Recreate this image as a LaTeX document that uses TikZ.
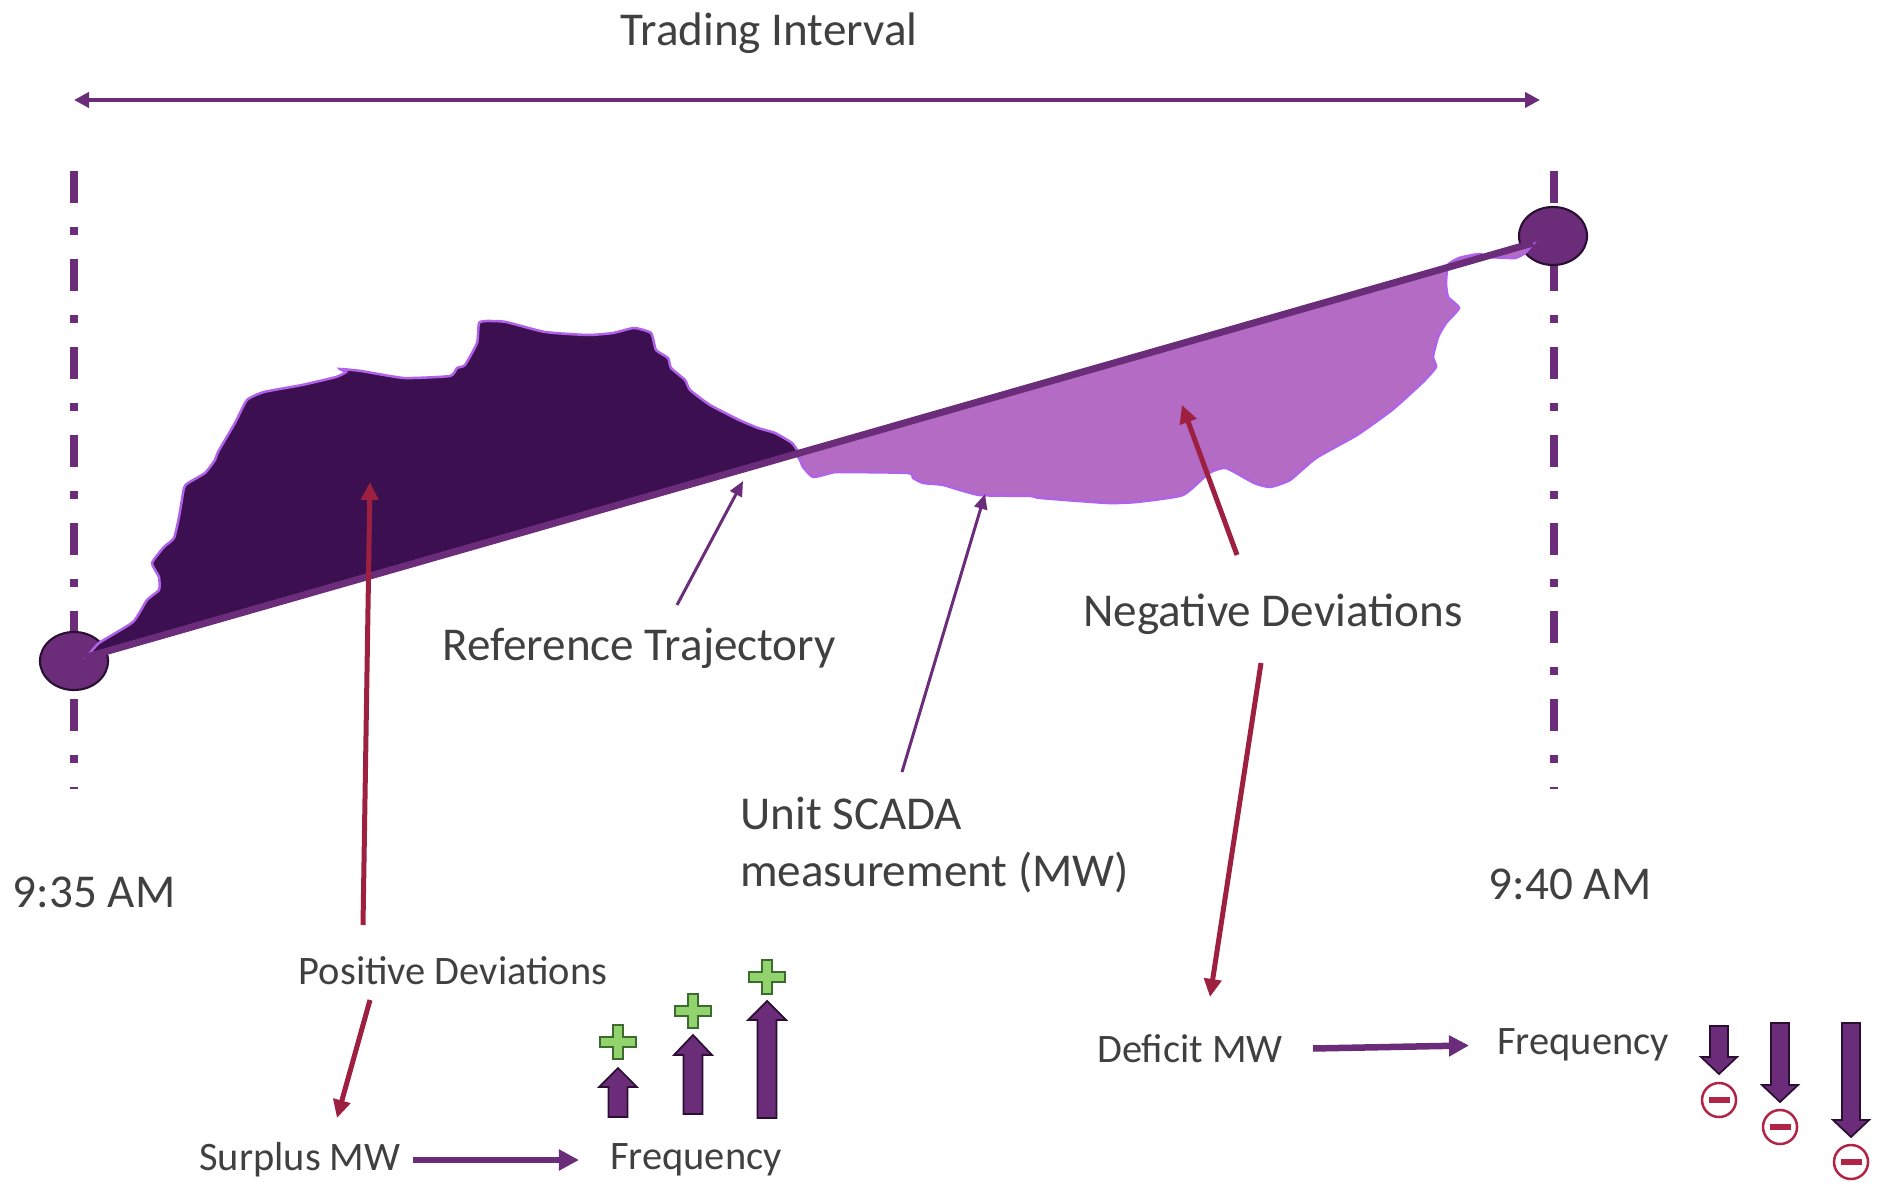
\documentclass[tikz,border=0pt]{standalone}
\usepackage{fontspec}
\setmainfont{Carlito}
\usepackage{tikz}
\usetikzlibrary{arrows.meta,positioning,calc,shapes.geometric}

\definecolor{plum}{HTML}{6B2D7A}
\definecolor{plumdark}{HTML}{2B0F33}
\definecolor{surplusfill}{HTML}{3C1050}
\definecolor{deficitfill}{HTML}{B36BC3}
\definecolor{blobedge}{HTML}{B062E8}
\definecolor{devred}{HTML}{9E2040}
\definecolor{minusred}{HTML}{B22445}
\definecolor{plusgreen}{HTML}{92D36E}
\definecolor{plusedge}{HTML}{3C6B2E}
\definecolor{txtgray}{HTML}{404040}

\tikzset{
  lbl/.style={text=txtgray, font=\fontsize{13.4}{16}\selectfont, inner sep=1pt},
  smalllbl/.style={text=txtgray, font=\fontsize{11.5}{14}\selectfont, inner sep=1pt},
  endpt/.style={ellipse, draw=plumdark, line width=0.6pt, fill=plum,
    minimum width=0.68cm, minimum height=0.58cm, inner sep=0pt},
  tickline/.style={plum, line width=0.08cm,
    dash pattern=on 0.32cm off 0.24cm on 0.08cm off 0.24cm},
  spanarrow/.style={draw=plum, line width=0.04cm,
    {Triangle[length=0.15cm,width=0.15cm]}-{Triangle[length=0.15cm,width=0.15cm]}},
  redarrow/.style={draw=devred, line width=0.05cm, -{Triangle[length=0.18cm,width=0.17cm]}},
  thinarrow/.style={draw=plum, line width=0.03cm, -{Triangle[length=0.15cm,width=0.13cm]}},
  flowarrow/.style={draw=plum, line width=0.065cm, -{Triangle[length=0.2cm,width=0.2cm]}},
  blockarrow/.style={fill=plum, draw=plumdark, line width=0.5pt},
  plusmark/.style={fill=plusgreen, draw=plusedge, line width=0.6pt},
  minusmark/.style={draw=minusred, line width=0.025cm},
  surplusblob/.style={fill=surplusfill, draw=blobedge, line width=0.025cm},
  deficitblob/.style={fill=deficitfill, draw=blobedge, line width=0.025cm},
}

\begin{document}
\begin{tikzpicture}[x=0.01cm, y=-0.01cm]
  \useasboundingbox (0,0) rectangle (1883,1189);

  % interval
  \node[lbl] (title) at (769,33) {Trading Interval};
  \coordinate (spanL) at (74,100);
  \coordinate (spanR) at (1540,100);
  \draw[spanarrow] (spanL) -- (spanR);

  \draw[tickline] (74,171) -- (74,789);
  \draw[tickline] (1554,171) -- (1554,789);

  \node[endpt] (t0) at (74,661) {};
  \node[endpt] (t1) at (1553,236) {};

  % deviations
  \draw[surplusblob] plot[smooth, tension=0.3] coordinates {
    (87,657) (99,643) (133,622) (147,600) (159,590) (159,577) (152,563)
    (164,547) (174,538) (179,517) (184,488) (188,483) (205,473) (215,460)
    (218,452) (235,423) (247,400) (264,392) (302,385) (336,377) (346,372)
    (340,369) (361,371) (404,378) (450,376) (457,368) (465,365) (477,343)
    (479,323) (487,321) (506,322) (545,332) (588,335) (613,333) (634,328)
    (651,333) (656,350) (668,358) (671,368) (685,380) (690,390) (710,405)
    (739,420) (758,428) (775,433) (792,443) (799,453)} -- cycle;
  \draw[deficitblob] plot[smooth, tension=0.3] coordinates {
    (796,454) (800,460) (803,467) (813,477) (831,473) (839,472) (908,473)
    (913,478) (923,483) (943,485) (979,495) (1030,496) (1040,498) (1107,503)
    (1137,502) (1183,495) (1209,473) (1226,468) (1254,483) (1270,487)
    (1290,480) (1316,458) (1357,435) (1392,410) (1423,382) (1436,367)
    (1433,357) (1438,337) (1446,323) (1459,308) (1448,297) (1446,283)
    (1448,265) (1459,258) (1479,254) (1489,257) (1515,258) (1525,253)
    (1533,244)} -- cycle;

  \coordinate (refA) at (85,657.6);
  \coordinate (refB) at (1533,243);
  \draw[plum, line width=0.07cm] (refA) -- (refB);

  % labels
  \node[lbl] (reftraj) at (639,648) {Reference Trajectory};
  \node[lbl] (negdev) at (1273,614) {Negative Deviations};
  \node[lbl, align=left, anchor=west] (scada) at (736,845) {Unit SCADA\\measurement (MW)};
  \node[lbl] (tstart) at (94,892) {9:35 AM};
  \node[lbl] (tend) at (1570,884) {9:40 AM};

  \node[smalllbl] (posdev) at (453,971) {Positive Deviations};
  \node[smalllbl] (surplus) at (300,1160) {Surplus MW};
  \node[smalllbl] (freqL) at (696,1160) {Frequency};
  \node[smalllbl] (deficit) at (1190,1049) {Deficit MW};
  \node[smalllbl] (freqR) at (1583,1045) {Frequency};

  % pointers
  \coordinate (refFrom) at (677,605);
  \coordinate (refTo) at (743,481);
  \coordinate (scadaFrom) at (902,772);
  \coordinate (scadaTo) at (985,494);
  \draw[thinarrow] (refFrom) -- (refTo);
  \draw[thinarrow] (scadaFrom) -- (scadaTo);

  \coordinate (posFrom) at (363,925);
  \coordinate (posTo) at (370,482);
  \coordinate (posDown) at (370,1000);
  \coordinate (surplusTo) at (337,1118);
  \coordinate (negFrom) at (1237,555);
  \coordinate (negTo) at (1182,405);
  \coordinate (negDown) at (1261,663);
  \coordinate (deficitTo) at (1210,997);
  \draw[redarrow] (posFrom) -- (posTo);
  \draw[redarrow] (posDown) -- (surplusTo);
  \draw[redarrow] (negFrom) -- (negTo);
  \draw[redarrow] (negDown) -- (deficitTo);

  \draw[flowarrow, shorten <=0.08cm, shorten >=0.27cm] (surplus.east) -- (freqL.west);
  \draw[flowarrow, shorten <=0.26cm, shorten >=0.24cm] (deficit.east) -- (freqR.west);

  % frequency up / down
  \foreach \ax/\ybot/\yhead/\ytip/\ymark in {618/1117/1087/1068/1042, 693/1114/1055/1035/1011, 767/1118/1020/1001/977}{
    \draw[blockarrow] ({\ax-9.5},\ybot) -- ({\ax-9.5},\yhead) -- ({\ax-19},\yhead) -- (\ax,\ytip)
      -- ({\ax+19},\yhead) -- ({\ax+9.5},\yhead) -- ({\ax+9.5},\ybot) -- cycle;
    \draw[plusmark, shift={(\ax,\ymark)}] (-5,-17) -- (5,-17) -- (5,-5) -- (18,-5) -- (18,5) -- (5,5)
      -- (5,17) -- (-5,17) -- (-5,5) -- (-18,5) -- (-18,-5) -- (-5,-5) -- cycle;
  }
  \foreach \ax/\ytop/\yhead/\ytip/\ymark in {1719/1026/1057/1074/1100, 1780/1023/1085/1102/1127, 1851/1023/1120/1137/1162}{
    \draw[blockarrow] ({\ax-9},\ytop) -- ({\ax-9},\yhead) -- ({\ax-18},\yhead) -- (\ax,\ytip)
      -- ({\ax+18},\yhead) -- ({\ax+9},\yhead) -- ({\ax+9},\ytop) -- cycle;
    \draw[minusmark] (\ax,\ymark) circle [radius=0.17cm];
    \fill[minusred] ({\ax-10.5},{\ymark-3}) rectangle ({\ax+10.5},{\ymark+3});
  }
\end{tikzpicture}
\end{document}
